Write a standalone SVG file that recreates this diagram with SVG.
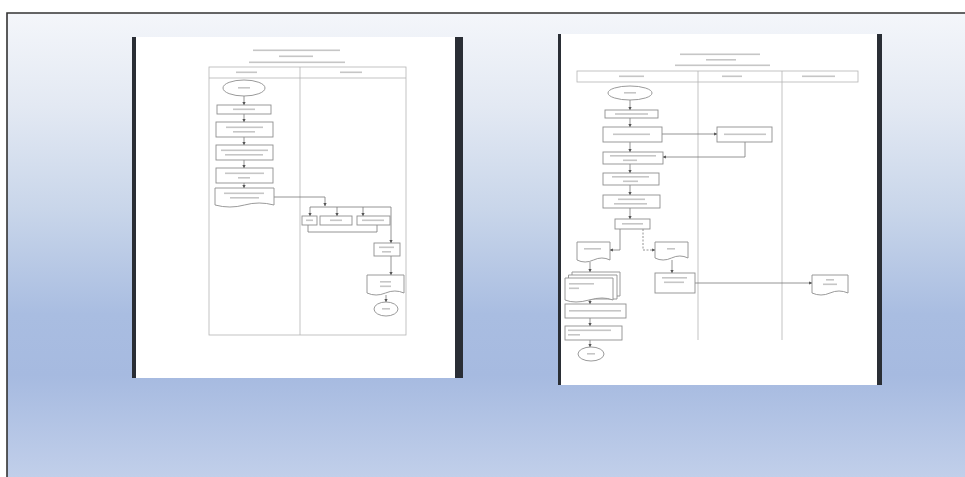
<svg xmlns="http://www.w3.org/2000/svg" width="965" height="477" viewBox="0 0 965 477">
<defs>
<linearGradient id="bg" x1="0" y1="0" x2="0" y2="1">
<stop offset="0" stop-color="#f4f6fa"/>
<stop offset="0.2" stop-color="#e3e9f3"/>
<stop offset="0.42" stop-color="#c9d6ea"/>
<stop offset="0.65" stop-color="#a9bde1"/>
<stop offset="0.78" stop-color="#a6bae0"/>
<stop offset="1" stop-color="#c1cfea"/>
</linearGradient>
<marker id="ah" viewBox="0 0 6 6" refX="5.5" refY="3" markerWidth="4" markerHeight="4" orient="auto">
<path d="M0,0 L6,3 L0,6 Z" fill="#555"/>
</marker>
<filter id="soft" x="-5%" y="-5%" width="110%" height="110%"><feGaussianBlur stdDeviation="0.45"/></filter>
</defs>
<style>
.node{fill:#fff;stroke:#8f8f8f;stroke-width:0.9}
.lane{fill:none;stroke:#b4b4b4;stroke-width:0.8}
.conn{fill:none;stroke:#7a7a7a;stroke-width:0.8;marker-end:url(#ah)}
.line{fill:none;stroke:#7a7a7a;stroke-width:0.8}
.dash{stroke-dasharray:2 1.5}
.sm{fill:#a0a0a0;opacity:0.6}
.page{fill:#fff}
.bar{fill:#2b2f36}
</style>

<rect x="0" y="0" width="965" height="477" fill="#fff"/>
<rect x="7" y="13" width="958" height="464" fill="url(#bg)"/>
<path d="M7 477 V13 H965" fill="none" stroke="#333" stroke-width="1.6"/>

<g id="left-page" filter="url(#soft)">
<rect class="page" x="135" y="37" width="322" height="341"/>
<rect class="bar" x="132" y="37" width="4" height="341"/>
<rect class="bar" x="455" y="37" width="8" height="341"/>
<rect class="sm" x="253" y="49.5" width="87" height="1.6"/>
<rect class="sm" x="279" y="55.5" width="34" height="1.6"/>
<rect class="sm" x="249" y="61.5" width="96" height="1.6"/>
<rect class="lane" x="209" y="67" width="197" height="268"/>
<line class="lane" x1="209" y1="78" x2="406" y2="78"/>
<line class="lane" x1="300" y1="67" x2="300" y2="335"/>
<rect class="sm" x="236" y="71.5" width="21" height="1.6"/>
<rect class="sm" x="340" y="71.5" width="22" height="1.6"/>
</g>

<g id="right-page" filter="url(#soft)">
<rect class="page" x="561" y="34" width="318" height="351"/>
<rect class="bar" x="558" y="34" width="3" height="351"/>
<rect class="bar" x="877" y="34" width="5" height="351"/>
<rect class="sm" x="680" y="53.5" width="80" height="1.6"/>
<rect class="sm" x="706" y="59" width="30" height="1.6"/>
<rect class="sm" x="675" y="64.5" width="95" height="1.6"/>
<rect class="lane" x="577" y="71" width="281" height="11"/>
<line class="lane" x1="698" y1="71" x2="698" y2="340"/>
<line class="lane" x1="782" y1="71" x2="782" y2="340"/>
<rect class="sm" x="619" y="75.5" width="25" height="1.6"/>
<rect class="sm" x="722" y="75.5" width="20" height="1.6"/>
<rect class="sm" x="802" y="75.5" width="33" height="1.6"/>
</g>

<g id="connectors" filter="url(#soft)">
<line class="conn" x1="244" y1="96" x2="244" y2="105"/>
<line class="conn" x1="244" y1="114" x2="244" y2="122"/>
<line class="conn" x1="244" y1="137" x2="244" y2="145"/>
<line class="conn" x1="244" y1="160" x2="244" y2="168"/>
<line class="conn" x1="244" y1="183" x2="244" y2="188"/>
<path class="conn" d="M274 197 H325 V206"/>
<path class="line" d="M310 207 H391"/>
<line class="conn" x1="310" y1="207" x2="310" y2="216"/>
<line class="conn" x1="337" y1="207" x2="337" y2="216"/>
<line class="conn" x1="363" y1="207" x2="363" y2="216"/>
<path class="line" d="M308 225 V232 H377 V225"/>
<line class="conn" x1="391" y1="207" x2="391" y2="243"/>
<line class="conn" x1="391" y1="256" x2="391" y2="275"/>
<line class="conn" x1="386" y1="295" x2="386" y2="302"/>

<line class="conn" x1="630" y1="100" x2="630" y2="110"/>
<line class="conn" x1="630" y1="118" x2="630" y2="127"/>
<line class="conn" x1="662" y1="134" x2="717" y2="134"/>
<line class="conn" x1="630" y1="142" x2="630" y2="152"/>
<path class="conn" d="M745 142 V157 H663"/>
<line class="conn" x1="630" y1="164" x2="630" y2="173"/>
<line class="conn" x1="630" y1="185" x2="630" y2="195"/>
<line class="conn" x1="630" y1="208" x2="630" y2="219"/>
<path class="conn" d="M620 229 V250 H610"/>
<path class="conn dash" d="M643 229 V250 H655"/>
<line class="conn" x1="590" y1="262" x2="590" y2="272"/>
<line class="conn" x1="590" y1="300" x2="590" y2="304"/>
<line class="conn" x1="590" y1="318" x2="590" y2="326"/>
<line class="conn" x1="590" y1="340" x2="590" y2="347"/>
<line class="conn" x1="672" y1="260" x2="672" y2="273"/>
<line class="conn" x1="695" y1="283" x2="812" y2="283"/>
</g>

<g filter="url(#soft)">
<g id="L-start"><ellipse class="node" cx="244" cy="88" rx="21" ry="8"/><rect class="sm" x="238" y="87" width="12" height="1.6"/></g>
<g id="L-p1"><rect class="node" x="217" y="105" width="54" height="9"/><rect class="sm" x="233" y="108.5" width="22" height="1.6"/></g>
<g id="L-p2"><rect class="node" x="216" y="122" width="57" height="15"/><rect class="sm" x="226" y="126.5" width="37" height="1.6"/><rect class="sm" x="233" y="131" width="22" height="1.6"/></g>
<g id="L-p3"><rect class="node" x="216" y="145" width="57" height="15"/><rect class="sm" x="221" y="149.5" width="47" height="1.6"/><rect class="sm" x="225" y="154" width="38" height="1.6"/></g>
<g id="L-p4"><rect class="node" x="216" y="168" width="57" height="15"/><rect class="sm" x="225" y="172.5" width="39" height="1.6"/><rect class="sm" x="238" y="177" width="12" height="1.6"/></g>
<g id="L-doc"><path class="node" d="M215 188 H274 V205 Q259 201 244.5 205 T215 205 Z" stroke-width="1.3"/><rect class="sm" x="224" y="192.5" width="40" height="1.6"/><rect class="sm" x="230" y="197" width="29" height="1.6"/></g>
<g id="L-a"><rect class="node" x="302" y="216" width="15" height="9"/><rect class="sm" x="306" y="219.5" width="7" height="1.6"/></g>
<g id="L-b"><rect class="node" x="320" y="216" width="32" height="9"/><rect class="sm" x="330" y="219.5" width="12" height="1.6"/></g>
<g id="L-c"><rect class="node" x="357" y="216" width="33" height="9"/><rect class="sm" x="362" y="219.5" width="22" height="1.6"/></g>
<g id="L-d"><rect class="node" x="374" y="243" width="26" height="13"/><rect class="sm" x="379" y="246.5" width="15" height="1.6"/><rect class="sm" x="382" y="251" width="9" height="1.6"/></g>
<g id="L-doc2"><path class="node" d="M367 275 H404 V293 Q395 289 385.5 293 T367 293 Z" stroke-width="1.2"/><rect class="sm" x="380" y="281" width="11" height="1.6"/><rect class="sm" x="380" y="285.5" width="11" height="1.6"/></g>
<g id="L-end"><ellipse class="node" cx="386" cy="309" rx="12" ry="7"/><rect class="sm" x="382" y="308" width="8" height="1.6"/></g>

<g id="R-start"><ellipse class="node" cx="630" cy="93" rx="22" ry="7"/><rect class="sm" x="624" y="92" width="12" height="1.6"/></g>
<g id="R-p1"><rect class="node" x="605" y="110" width="53" height="8"/><rect class="sm" x="615" y="113.2" width="33" height="1.6"/></g>
<g id="R-p2"><rect class="node" x="603" y="127" width="59" height="15"/><rect class="sm" x="613" y="133.5" width="37" height="1.6"/></g>
<g id="R-b1"><rect class="node" x="717" y="127" width="55" height="15" stroke-width="1.4"/><rect class="sm" x="724" y="133.5" width="42" height="1.6"/></g>
<g id="R-p3"><rect class="node" x="603" y="152" width="60" height="12"/><rect class="sm" x="610" y="155" width="46" height="1.6"/><rect class="sm" x="623" y="159.5" width="14" height="1.6"/></g>
<g id="R-p4"><rect class="node" x="603" y="173" width="56" height="12"/><rect class="sm" x="612" y="176" width="37" height="1.6"/><rect class="sm" x="623" y="180.5" width="15" height="1.6"/></g>
<g id="R-p5"><rect class="node" x="603" y="195" width="57" height="13"/><rect class="sm" x="618" y="198.5" width="27" height="1.6"/><rect class="sm" x="614" y="203" width="33" height="1.6"/></g>
<g id="R-p6"><rect class="node" x="615" y="219" width="35" height="10"/><rect class="sm" x="622" y="223" width="21" height="1.6"/></g>
<g id="R-docL"><path class="node" d="M577 242 H610 V260 Q602 256 593.5 260 T577 260 Z" stroke-width="1.2"/><rect class="sm" x="584" y="248" width="17" height="1.6"/></g>
<g id="R-docR"><path class="node" d="M655 242 H688 V258 Q680 254 671.5 258 T655 258 Z" stroke-width="1.2"/><rect class="sm" x="667" y="248" width="8" height="1.6"/></g>
<g id="R-multi"><path class="node" d="M572 272 H620 V296 H572 Z" stroke-width="0.8"/><path class="node" d="M568.5 275 H617 V299 H568.5 Z" stroke-width="0.8"/><path class="node" d="M565 278 H613 V300 Q603 296 589 300 T565 300 Z" stroke-width="1.1"/><rect class="sm" x="569" y="283" width="25" height="1.6"/><rect class="sm" x="569" y="287.5" width="10" height="1.6"/></g>
<g id="R-p7"><rect class="node" x="565" y="304" width="61" height="14" stroke-width="1.2"/><rect class="sm" x="569" y="310" width="52" height="1.6"/></g>
<g id="R-p8"><rect class="node" x="565" y="326" width="57" height="14"/><rect class="sm" x="568" y="329.5" width="43" height="1.6"/><rect class="sm" x="568" y="334" width="12" height="1.6"/></g>
<g id="R-end"><ellipse class="node" cx="591" cy="354" rx="13" ry="7"/><rect class="sm" x="587" y="353" width="8" height="1.6"/></g>
<g id="R-p9"><rect class="node" x="655" y="273" width="40" height="20"/><rect class="sm" x="662" y="277" width="25" height="1.6"/><rect class="sm" x="664" y="281.5" width="20" height="1.6"/></g>
<g id="R-doc3"><path class="node" d="M812 275 H848 V293 Q839 289 830 293 T812 293 Z" stroke-width="1.2"/><rect class="sm" x="826" y="279" width="8" height="1.6"/><rect class="sm" x="823" y="283.5" width="14" height="1.6"/></g>
</g>
</svg>
